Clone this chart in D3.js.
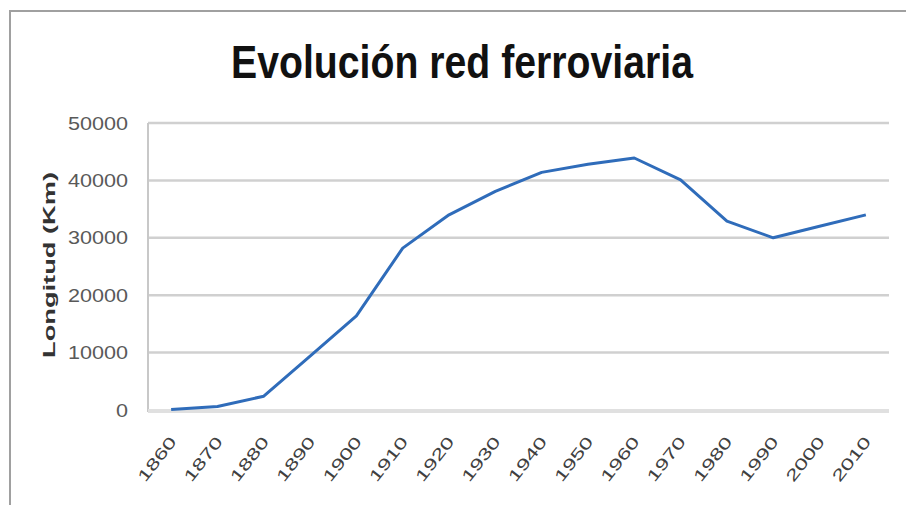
<!DOCTYPE html>
<meta charset="utf-8">
<style>
body { margin: 0; background: #fff; }
svg { display: block; font-family: "Liberation Sans", Arial, sans-serif; }
.grid line { stroke: #d0d0d0; stroke-width: 2.5px; }
.axis--y text { fill: #595959; font-size: 19px; }
.axis--x text { fill: #404040; font-size: 16px; }
.line { fill: none; stroke: #2f6cba; stroke-width: 3px; stroke-linejoin: round; }
</style>
<svg width="906" height="505"></svg>
<script src="https://d3js.org/d3.v7.min.js"></script>
<script>

var years = ["1860", "1870", "1880", "1890", "1900", "1910", "1920", "1930",
             "1940", "1950", "1960", "1970", "1980", "1990", "2000", "2010"];
var lengthKm = [100, 600, 2400, 9400, 16400, 28200, 34000, 38100,
                41400, 42800, 43900, 40100, 32900, 30000, 32000, 34000];
var yTicks = [0, 10000, 20000, 30000, 40000, 50000];

var svg = d3.select("svg"),
    margin = {top: 123, right: 17, bottom: 95, left: 148},
    width = +svg.attr("width") - margin.left - margin.right,
    height = +svg.attr("height") - margin.top - margin.bottom;

// frame (top and left edge of the chart box)
svg.append("path")
    .attr("d", "M10,505V11H906")
    .attr("fill", "none")
    .attr("stroke", "#a0a0a0")
    .attr("stroke-width", 2);

svg.append("text")
    .attr("x", 462)
    .attr("y", 78)
    .attr("text-anchor", "middle")
    .attr("font-family", "'Liberation Sans Narrow', 'Liberation Sans', Arial, sans-serif")
    .attr("font-size", 47)
    .attr("font-weight", "bold")
    .attr("fill", "#111")
    .attr("textLength", 462)
    .attr("lengthAdjust", "spacingAndGlyphs")
    .text("Evolución red ferroviaria");

var x = d3.scaleBand().domain(years).range([0, width]),
    y = d3.scaleLinear().domain([0, 50000]).range([height, 0]);

var g = svg.append("g")
    .attr("transform", "translate(" + margin.left + "," + margin.top + ")");

g.append("g")
    .attr("class", "grid")
  .selectAll("line")
  .data(yTicks.slice(1))
  .enter().append("line")
    .attr("x1", 0)
    .attr("x2", width)
    .attr("y1", function(d) { return y(d); })
    .attr("y2", function(d) { return y(d); });

// y axis line
g.append("line")
    .attr("x1", 0).attr("x2", 0)
    .attr("y1", 0).attr("y2", height + 2)
    .attr("stroke", "#c8c8c8")
    .attr("stroke-width", 2);

// x axis line
g.append("line")
    .attr("x1", 0).attr("x2", width)
    .attr("y1", height + 1).attr("y2", height + 1)
    .attr("stroke", "#e0e0e0")
    .attr("stroke-width", 4);

var yAxis = g.append("g")
    .attr("class", "axis axis--y")
    .call(d3.axisLeft(y).tickValues(yTicks).tickSize(0).tickPadding(20)
        .tickFormat(d3.format("d")));
yAxis.select(".domain").remove();
yAxis.selectAll("text")
    .attr("x", -20)
    .attr("textLength", function(d) { return String(d).length * 12; })
    .attr("lengthAdjust", "spacingAndGlyphs");

var xAxis = g.append("g")
    .attr("class", "axis axis--x")
    .attr("transform", "translate(0," + height + ")")
    .call(d3.axisBottom(x).tickSize(0));
xAxis.select(".domain").remove();
xAxis.selectAll("text")
    .attr("y", 0)
    .attr("dy", 0)
    .attr("text-anchor", "end")
    .attr("transform", "translate(6,32) rotate(-52)")
    .attr("textLength", 52)
    .attr("lengthAdjust", "spacingAndGlyphs");

svg.append("text")
    .attr("transform", "translate(55,265) rotate(-90)")
    .attr("text-anchor", "middle")
    .attr("font-size", 16)
    .attr("font-weight", "bold")
    .attr("fill", "#333")
    .attr("textLength", 186)
    .attr("lengthAdjust", "spacingAndGlyphs")
    .text("Longitud (Km)");

var line = d3.line()
    .x(function(d, i) { return x(years[i]) + x.bandwidth() / 2; })
    .y(function(d) { return y(d); });

g.append("path")
    .datum(lengthKm)
    .attr("class", "line")
    .attr("d", line);

</script>
